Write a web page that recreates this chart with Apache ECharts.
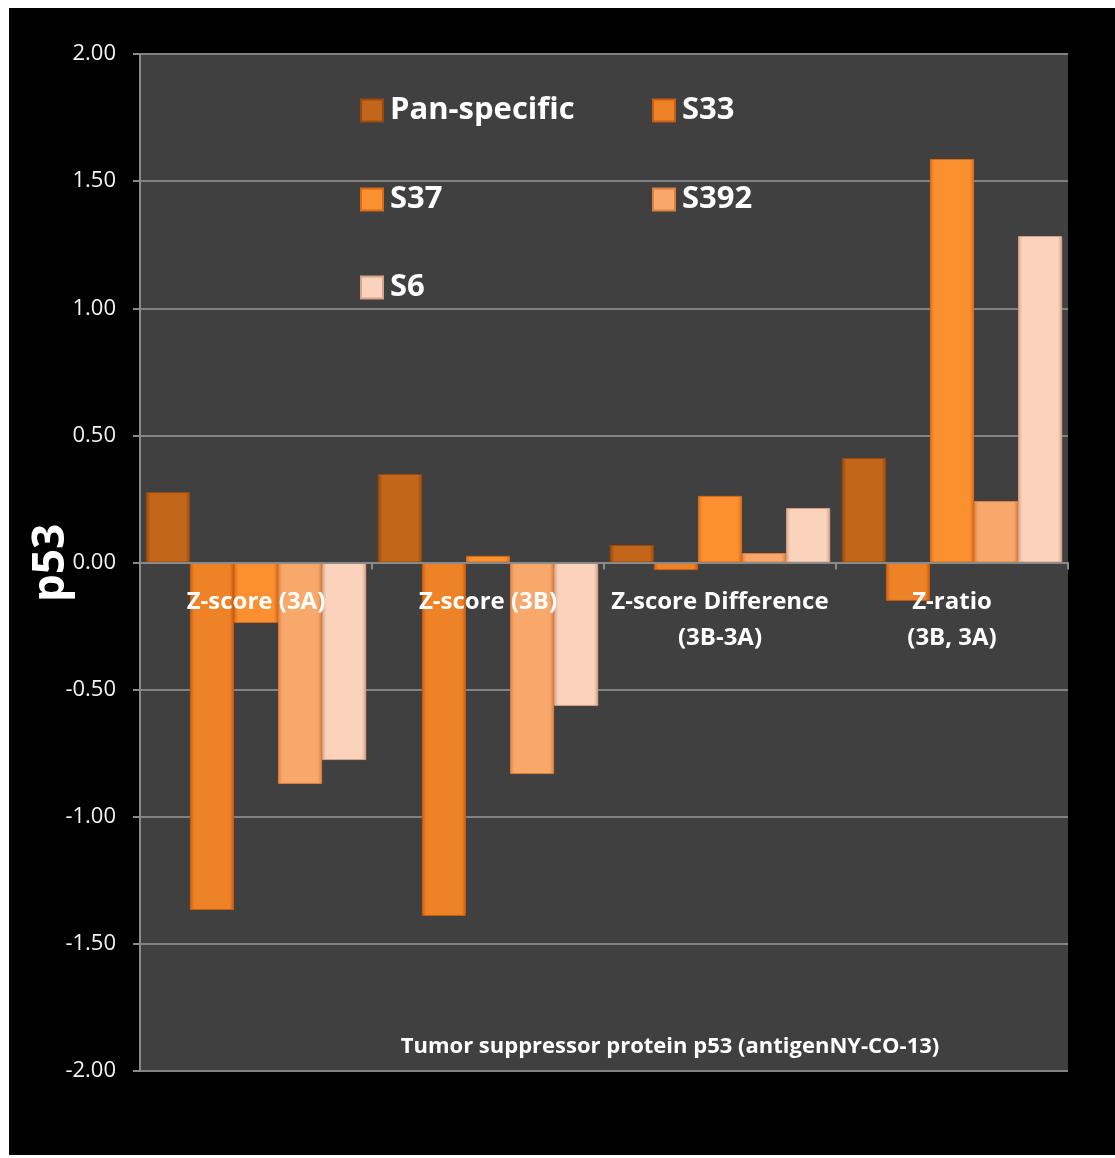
<!DOCTYPE html>
<html>
<head>
<meta charset="utf-8">
<script src="https://cdn.jsdelivr.net/npm/echarts@6/dist/echarts.min.js"></script>
<style>
html,body{margin:0;padding:0;background:#fff;}
#chart{width:1115px;height:1158px;}
</style>
</head>
<body>
<div id="chart"></div>
<script>
const categories = ['Z-score (3A)', 'Z-score (3B)', 'Z-score Difference\n(3B-3A)', 'Z-ratio\n(3B, 3A)'];
const seriesNames = ['Pan-specific', 'S33', 'S37', 'S392', 'S6'];
const panSpecific = [0.277, 0.348, 0.069, 0.411];
const s33 = [-1.367, -1.390, -0.030, -0.151];
const s37 = [-0.238, 0.026, 0.262, 1.587];
const s392 = [-0.871, -0.832, 0.037, 0.242];
const s6 = [-0.777, -0.564, 0.214, 1.284];
const yTicks = { min: -2, max: 2, interval: 0.5 };
const yAxisTitle = 'p53';
const chartTitle = 'Tumor suppressor protein p53 (antigenNY-CO-13)';

const seriesData = [panSpecific, s33, s37, s392, s6];
const baseColors = [
  ['#8f440a', '#c2661c', '#9a4a0c'],
  ['#c95e12', '#ee8226', '#c75c12'],
  ['#dc6e1a', '#fb9030', '#d86b18'],
  ['#e08445', '#f8a86a', '#dc7f40'],
  ['#dca98e', '#fbd3bd', '#d8a488']
];
function grad(c) {
  return new echarts.graphic.LinearGradient(0, 0, 1, 0, [
    { offset: 0, color: c[0] },
    { offset: 0.1, color: c[1] },
    { offset: 0.9, color: c[1] },
    { offset: 1, color: c[2] }
  ]);
}

const chart = echarts.init(document.getElementById('chart'), null, { renderer: 'canvas' });
const font = 'Open Sans, Lato, sans-serif';

const legendPos = [[360, 95], [652, 95], [360, 184], [652, 184], [360, 272]];
const legends = seriesNames.map((n, i) => ({
  data: [n],
  left: legendPos[i][0],
  top: legendPos[i][1],
  icon: 'rect',
  itemWidth: 22,
  itemHeight: 22,
  itemGap: 0,
  padding: 0,
  textStyle: { color: '#ffffff', fontSize: 31, fontWeight: 'bold', fontFamily: font, padding: [0, 0, 0, 2] },
  selectedMode: false
}));

const labelStyle = {
  color: '#ffffff', fontSize: 24, fontWeight: 'bold', fontFamily: font,
  lineHeight: 36, interval: 0
};

chart.setOption({
  backgroundColor: '#ffffff',
  animation: false,
  graphic: [{
    type: 'rect', z: -100, silent: true,
    shape: { x: 9, y: 8, width: 1106, height: 1147 },
    style: { fill: '#000000' }
  }, {
    type: 'text', z: 100, silent: true,
    x: 51, y: 563, rotation: Math.PI / 2,
    style: {
      text: yAxisTitle, fill: '#ffffff', fontSize: 44, fontWeight: 'bold',
      fontFamily: font, align: 'center', verticalAlign: 'middle'
    }
  }],
  title: {
    text: chartTitle,
    left: 665, top: 1031, textAlign: 'center',
    textStyle: { color: '#ffffff', fontSize: 22, fontWeight: 'bold', fontFamily: font }
  },
  legend: legends,
  grid: {
    left: 140, top: 54, right: 47, bottom: 87,
    outerBoundsMode: 'none', containLabel: false,
    show: true, backgroundColor: '#404040', borderWidth: 0
  },
  xAxis: [{
    type: 'category',
    data: categories,
    z: 10,
    axisLine: { onZero: true, lineStyle: { color: '#8a8a8a', width: 2 } },
    axisTick: { show: true, length: 7, lineStyle: { color: '#8a8a8a', width: 2 } },
    axisLabel: { show: false }
  }, {
    type: 'category',
    data: categories,
    position: 'bottom',
    offset: -508.5,
    z: 10,
    axisLine: { show: false, onZero: false },
    axisTick: { show: false },
    axisLabel: Object.assign({ margin: 22 }, labelStyle)
  }],
  yAxis: {
    type: 'value',
    min: yTicks.min, max: yTicks.max, interval: yTicks.interval,
    axisLine: { show: true, lineStyle: { color: '#8a8a8a', width: 2 } },
    axisTick: { show: true, length: 7, lineStyle: { color: '#8a8a8a', width: 2 } },
    splitLine: { show: true, lineStyle: { color: '#828282', width: 2 } },
    axisLabel: {
      color: '#f2f2f2', fontSize: 22, fontFamily: font, margin: 24,
      formatter: v => v.toFixed(2)
    }
  },
  series: seriesNames.map((n, i) => ({
    name: n,
    type: 'bar',
    data: seriesData[i],
    barGap: '0%',
    barCategoryGap: '5%',
    itemStyle: {
      color: grad(baseColors[i]),
      borderColor: baseColors[i][2],
      borderWidth: 1
    }
  }))
});
</script>
</body>
</html>
